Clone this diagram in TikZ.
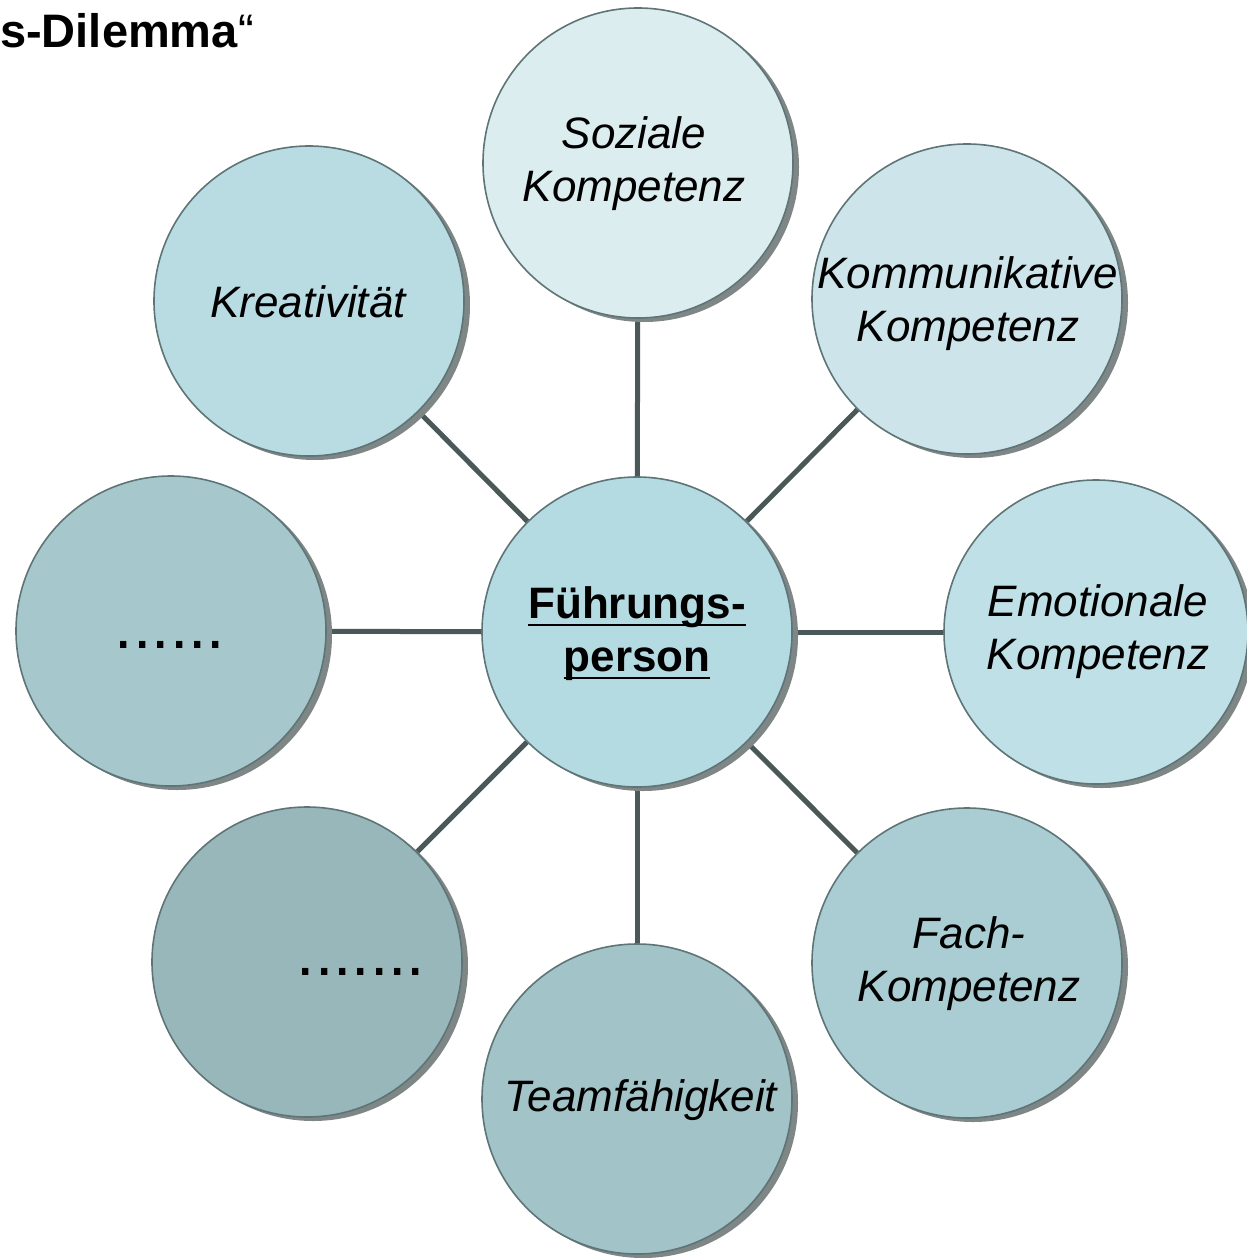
\documentclass[tikz,border=0pt]{standalone}
\usepackage{fontspec}
\setmainfont{Liberation Sans}
\usetikzlibrary{shadows,backgrounds}
\definecolor{cSoz}{HTML}{DCEDF0}
\definecolor{cKom}{HTML}{CDE5EA}
\definecolor{cEmo}{HTML}{BFE0E6}
\definecolor{cFach}{HTML}{A9CDD3}
\definecolor{cTeam}{HTML}{A2C3C7}
\definecolor{cDotA}{HTML}{98B7BA}
\definecolor{cDotB}{HTML}{A6C8CD}
\definecolor{cKrea}{HTML}{B9DCE3}
\definecolor{cCtr}{HTML}{B5DBE2}
\definecolor{cEdge}{HTML}{5E7476}
\definecolor{cShadow}{HTML}{7F8686}
\definecolor{cLine}{HTML}{4A5858}
\newcommand\myul[1]{\setbox0\hbox{#1}\rlap{\rule[-7.5pt]{\wd0}{2.6pt}}\box0}
\tikzset{
  bub/.style={circle, draw=cEdge, line width=1.6pt, minimum size=310pt, inner sep=0pt,
    drop shadow={shadow xshift=6pt, shadow yshift=-4pt, fill=cShadow, opacity=1}},
  lbl/.style={inner sep=0pt, align=center, font=\fontsize{44}{53}\selectfont\itshape},
  dots/.style={inner sep=0pt, anchor=base, font=\fontsize{66}{70}\selectfont},
  conn/.style={draw=cLine, line width=5pt}
}
\begin{document}
\begin{tikzpicture}[x=1pt,y=-1pt]
\useasboundingbox (0,0) rectangle (1247,1258);
\node[inner sep=0pt, anchor=base west, font=\fontsize{47}{50}\selectfont] (title) at (0,47) {\textbf{s-Dilemma}“};
% circles
\node[bub, fill=cCtr]  (ctr)  at (637,632) {};
\node[bub, fill=cSoz]  (soz)  at (638,163) {};
\node[bub, fill=cKom]  (kom)  at (967,299) {};
\node[bub, fill=cEmo, minimum size=304pt]  (emo)  at (1096,632) {};
\node[bub, fill=cFach] (fach) at (967,963) {};
\node[bub, fill=cTeam] (team) at (637,1099) {};
\node[bub, fill=cDotA] (dotb) at (307,962) {};
\node[bub, fill=cDotB] (dota) at (171,631) {};
\node[bub, fill=cKrea] (krea) at (309,301) {};
% texts
\node[lbl] (ctrT) at (637,634) {\bfseries\upshape\myul{Führungs-}\\\bfseries\upshape\myul{person}};
\node[lbl] (sozT) at (634,164) {Soziale\\Kompetenz};
\node[lbl] (komT) at (968,304) {Kommunikative\\Kompetenz};
\node[lbl] (emoT) at (1098,632) {Emotionale\\Kompetenz};
\node[lbl] (fachT) at (969,964) {Fach-\\Kompetenz};
\node[lbl] (teamT) at (641,1100) {Teamfähigkeit};
\node[lbl] (kreaT) at (308,302) {Kreativität};
\node[dots] (dotaT) at (170,648) {......};
\node[dots] (dotbT) at (361,975) {.......};
% connectors
\begin{scope}[on background layer]
\draw[conn] (ctr) -- (soz);
\draw[conn] (ctr) -- (kom);
\draw[conn] (ctr) -- (emo);
\draw[conn] (ctr) -- (fach);
\draw[conn] (ctr) -- (team);
\draw[conn] (ctr) -- (dotb);
\draw[conn] (ctr) -- (dota);
\draw[conn] (ctr) -- (krea);
\end{scope}
\end{tikzpicture}
\end{document}
